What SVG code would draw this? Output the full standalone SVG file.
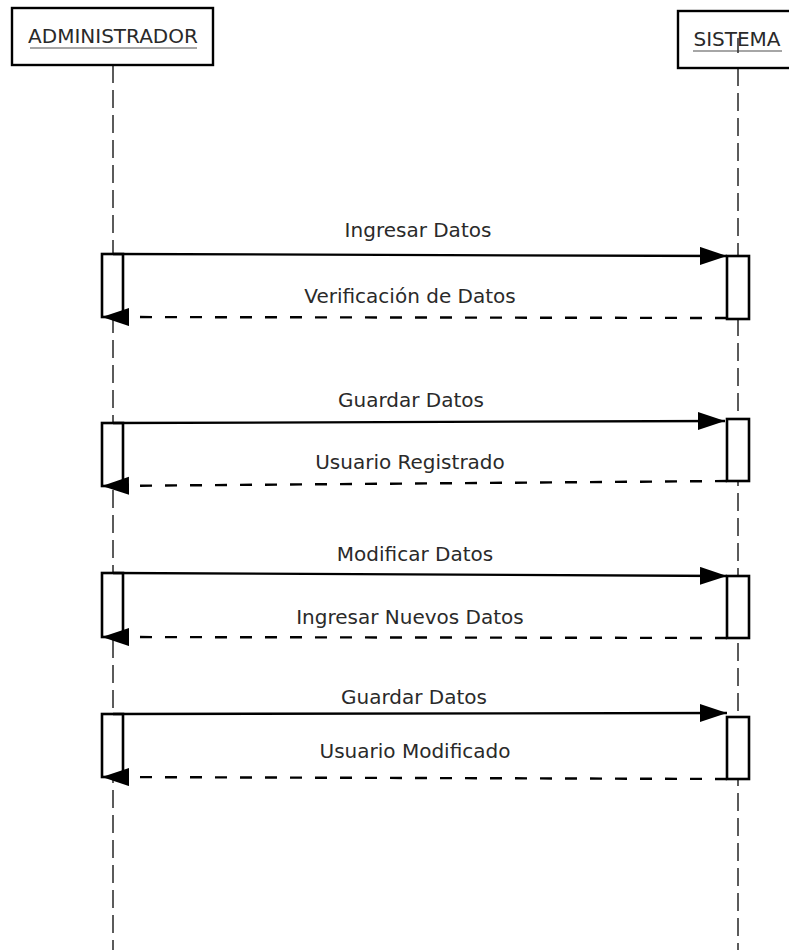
<svg xmlns="http://www.w3.org/2000/svg" width="789" height="950" viewBox="0 0 789 950">
<style>
.life{stroke:#333;stroke-width:1.6;stroke-dasharray:18 7;fill:none}
.head{fill:#fff;stroke:#000;stroke-width:2.4}
.act{fill:#fff;stroke:#000;stroke-width:2.6}
.msg{stroke:#000;stroke-width:2.3;fill:none}
.ret{stroke:#000;stroke-width:2.4;fill:none;stroke-dasharray:12 13}
.lbl{font-family:"DejaVu Sans",sans-serif;font-size:20px;fill:#2a2a2a;text-anchor:middle}
.ul{stroke:#888;stroke-width:1.5}
</style>
<defs>
<marker id="ah" markerUnits="userSpaceOnUse" markerWidth="28" markerHeight="20" refX="27" refY="9" orient="auto" viewBox="0 0 28 20">
<path d="M0,0 L27,9 L0,18 z" fill="#000"/>
</marker>
</defs>
<g id="lifelines">
<line class="life" x1="113" y1="65" x2="113" y2="950"/>
<line class="life" x1="738" y1="68" x2="738" y2="950"/>
</g>
<g id="administrador">
<rect class="head" x="12" y="8" width="201" height="57"/>
<text class="lbl" x="113" y="43">ADMINISTRADOR</text>
<line class="ul" x1="30" y1="48" x2="197" y2="48"/>
</g>
<g id="sistema">
<rect class="head" x="678" y="11" width="130" height="57"/>
<text class="lbl" x="737" y="46">SISTEMA</text>
<line class="ul" x1="693" y1="51" x2="782" y2="51"/>
<line stroke="#333" stroke-width="1.6" x1="738" y1="38" x2="738" y2="53"/>
</g>
<g id="activations">
<rect class="act" x="102" y="254" width="21" height="63"/>
<rect class="act" x="727" y="256" width="22" height="63"/>
<rect class="act" x="102" y="423" width="21" height="63"/>
<rect class="act" x="727" y="419" width="22" height="62"/>
<rect class="act" x="102" y="573" width="21" height="64"/>
<rect class="act" x="727" y="576" width="22" height="62"/>
<rect class="act" x="102" y="714" width="21" height="63"/>
<rect class="act" x="727" y="717" width="22" height="62"/>
</g>
<g id="connectors">
<line class="msg" x1="113" y1="254" x2="727" y2="256" marker-end="url(#ah)"/>
<line class="ret" x1="727" y1="318" x2="102" y2="317" marker-end="url(#ah)"/>
<line class="msg" x1="113" y1="423" x2="725" y2="421" marker-end="url(#ah)"/>
<line class="ret" x1="727" y1="481" x2="102" y2="486" marker-end="url(#ah)"/>
<line class="msg" x1="113" y1="573" x2="727" y2="576" marker-end="url(#ah)"/>
<line class="ret" x1="727" y1="638" x2="102" y2="637" marker-end="url(#ah)"/>
<line class="msg" x1="113" y1="714" x2="727" y2="713" marker-end="url(#ah)"/>
<line class="ret" x1="727" y1="779" x2="102" y2="777" marker-end="url(#ah)"/>
</g>
<g id="labels">
<text class="lbl" x="418" y="237">Ingresar Datos</text>
<text class="lbl" x="410" y="303">Verificación de Datos</text>
<text class="lbl" x="411" y="407">Guardar Datos</text>
<text class="lbl" x="410" y="469">Usuario Registrado</text>
<text class="lbl" x="415" y="561">Modificar Datos</text>
<text class="lbl" x="410" y="624">Ingresar Nuevos Datos</text>
<text class="lbl" x="414" y="704">Guardar Datos</text>
<text class="lbl" x="415" y="758">Usuario Modificado</text>
</g>
</svg>
